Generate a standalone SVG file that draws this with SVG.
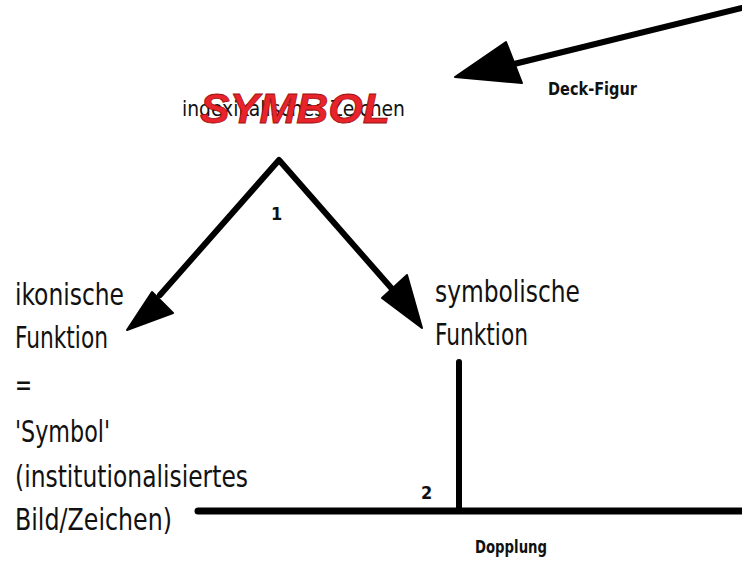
<svg xmlns="http://www.w3.org/2000/svg" width="742" height="564" viewBox="0 0 742 564">
<style>
.lbl{font-family:"DejaVu Sans Condensed","DejaVu Sans","Liberation Sans",sans-serif;font-size:31px;fill:#111}
.small{font-family:"DejaVu Sans Condensed","DejaVu Sans","Liberation Sans",sans-serif;font-size:18px;font-weight:bold;fill:#111}
.sub{font-family:"DejaVu Sans Condensed","DejaVu Sans","Liberation Sans",sans-serif;font-size:22px;fill:#111}
.sym{font-family:"Liberation Sans",Arial,sans-serif;font-size:43px;font-weight:bold;font-style:italic;fill:#e8232a;stroke:#a01010;stroke-width:0.8}
.ln{stroke:#000;stroke-width:6;fill:none;stroke-linecap:round;stroke-linejoin:round}
.hd{fill:#000;stroke:#000;stroke-width:2;stroke-linejoin:round}
</style>
<rect width="742" height="564" fill="#fff"/>
<g id="connectors">
<path class="ln" d="M742 8 L510 65"/>
<polygon class="hd" points="455,77 506,42 522,83"/>
<path class="ln" d="M160 295 L279 160 L393 290"/>
<polygon class="hd" points="127,330 152,292 173,313"/>
<polygon class="hd" points="422,328 382,298 407,275"/>
<path class="ln" d="M459 362 L459 510"/>
<path class="ln" d="M198 511 L742 511" style="stroke-width:7"/>
</g>
<g id="node-symbol">
<text class="sub" x="182" y="116" textLength="223" lengthAdjust="spacingAndGlyphs">indexikalisches Zeichen</text>
<text class="sym" x="200" y="123" textLength="190" lengthAdjust="spacingAndGlyphs">SYMBOL</text>
</g>
<g id="label-deck"><text class="small" x="548" y="95" textLength="89" lengthAdjust="spacingAndGlyphs">Deck-Figur</text></g>
<g id="label-1"><text class="small" x="271" y="220">1</text></g>
<g id="node-ikonisch">
<text class="lbl" x="15" y="305" textLength="109" lengthAdjust="spacingAndGlyphs">ikonische</text>
<text class="lbl" x="15" y="348" textLength="93" lengthAdjust="spacingAndGlyphs">Funktion</text>
<text class="lbl" x="15" y="395" textLength="17" lengthAdjust="spacingAndGlyphs">=</text>
<text class="lbl" x="15" y="442" textLength="95" lengthAdjust="spacingAndGlyphs">'Symbol'</text>
<text class="lbl" x="15" y="487" textLength="233" lengthAdjust="spacingAndGlyphs">(institutionalisiertes</text>
<text class="lbl" x="15" y="530" textLength="157" lengthAdjust="spacingAndGlyphs">Bild/Zeichen)</text>
</g>
<g id="node-symbolisch">
<text class="lbl" x="435" y="302" textLength="145" lengthAdjust="spacingAndGlyphs">symbolische</text>
<text class="lbl" x="435" y="345" textLength="93" lengthAdjust="spacingAndGlyphs">Funktion</text>
</g>
<g id="label-2"><text class="small" x="421" y="499">2</text></g>
<g id="label-dopplung"><text class="small" x="475" y="553" textLength="72" lengthAdjust="spacingAndGlyphs">Dopplung</text></g>
</svg>
